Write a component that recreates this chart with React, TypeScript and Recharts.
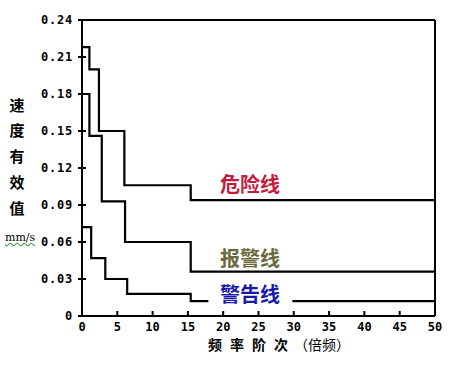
import { LineChart, Line, XAxis, YAxis } from 'recharts';

const xTicks = [0, 5, 10, 15, 20, 25, 30, 35, 40, 45, 50];
const yTicks = [0, 0.03, 0.06, 0.09, 0.12, 0.15, 0.18, 0.21, 0.24];
const yTickLabels = ['0', '0.03', '0.06', '0.09', '0.12', '0.15', '0.18', '0.21', '0.24'];

// 危险线
const dangerX = [0, 1.05, 2.4, 6.0, 15.4, 50];
const dangerY = [0.218, 0.2, 0.15, 0.106, 0.094, 0.094];
// 报警线
const alarmX = [0, 1.05, 2.8, 6.1, 15.4, 50];
const alarmY = [0.18, 0.146, 0.093, 0.06, 0.036, 0.036];
// 警告线 (broken where its label sits)
const warnX = [0, 1.3, 3.3, 6.4, 15.4, 17.9, 29.8, 50];
const warnY = [0.072, 0.047, 0.03, 0.018, 0.012, 0.012, 0.012, 0.012];
const warnGapAfter = 17.9;

const yTitle = ['速', '度', '有', '效', '值'];

const toPoints = (xs: number[], ys: number[]) => xs.map((x, i) => ({ x, y: ys[i] }));

const dangerData = toPoints(dangerX, dangerY);
const alarmData = toPoints(alarmX, alarmY);
const warnData = warnX.flatMap((x, i) =>
    x === warnGapAfter ? [{ x, y: warnY[i] }, { x, y: null as number | null }] : [{ x, y: warnY[i] as number | null }]
);

const W = 465;
const H = 366;
const MONO = '"DejaVu Sans Mono", monospace';
const CJK = '"Noto Sans CJK SC", sans-serif';

const LeftTick = (p: any) => {
    const i = yTicks.indexOf(p.payload.value);
    return (
        <g>
            <line x1={p.x - 4} x2={p.x + 4} y1={p.y} y2={p.y} stroke="#000" strokeWidth={2} />
            <text x={p.x - 9} y={p.y} textAnchor="end" dominantBaseline="central" letterSpacing={0.8}
                fontFamily={MONO} fontWeight="bold" fontSize={12} fill="#000">
                {yTickLabels[i]}
            </text>
        </g>
    );
};

const RightTick = (p: any) => (
    <line x1={p.x - 4} x2={p.x + 4} y1={p.y} y2={p.y} stroke="#000" strokeWidth={2} />
);

const BottomTick = (p: any) => {
    const v = p.payload.value;
    const edge = v === 0 || v === 50;
    return (
        <g>
            {!edge && <line x1={p.x} x2={p.x} y1={p.y} y2={p.y - 5} stroke="#000" strokeWidth={2} />}
            <text x={p.x} y={p.y + 11} textAnchor="middle" dominantBaseline="central"
                fontFamily={MONO} fontWeight="bold" fontSize={12} fill="#000">
                {v}
            </text>
        </g>
    );
};

const TopTick = (p: any) => {
    const v = p.payload.value;
    if (v === 0 || v === 50) return <g />;
    return <line x1={p.x} x2={p.x} y1={p.y} y2={p.y + 5} stroke="#000" strokeWidth={2} />;
};

export default function App() {
    const axisLine = { stroke: '#000', strokeWidth: 2 };
    return (
        <div style={{ position: 'absolute', left: 0, top: 0, width: W, height: H, background: '#fff' }}>
            <LineChart width={W} height={H} margin={{ top: 19, right: 29, bottom: 49, left: 81 }}>
                <XAxis xAxisId="b" type="number" dataKey="x" domain={[0, 50]} ticks={xTicks} interval={0}
                    height={1} tickSize={0} tickMargin={0} tickLine={false} axisLine={axisLine} tick={<BottomTick />} />
                <XAxis xAxisId="t" orientation="top" type="number" dataKey="x" domain={[0, 50]} ticks={xTicks} interval={0}
                    height={1} tickSize={0} tickMargin={0} tickLine={false} axisLine={axisLine} tick={<TopTick />} />
                <YAxis yAxisId="l" type="number" domain={[0, 0.24]} ticks={yTicks} interval={0}
                    width={1} tickSize={0} tickMargin={0} tickLine={false} axisLine={axisLine} tick={<LeftTick />} />
                <YAxis yAxisId="r" orientation="right" type="number" domain={[0, 0.24]} ticks={yTicks} interval={0}
                    width={1} tickSize={0} tickMargin={0} tickLine={false} axisLine={axisLine} tick={<RightTick />} />
                <Line xAxisId="b" yAxisId="l" data={dangerData} dataKey="y" type="stepAfter" stroke="#000"
                    strokeWidth={2.2} dot={false} isAnimationActive={false} />
                <Line xAxisId="b" yAxisId="l" data={alarmData} dataKey="y" type="stepAfter" stroke="#000"
                    strokeWidth={2.2} dot={false} isAnimationActive={false} />
                <Line xAxisId="b" yAxisId="l" data={warnData} dataKey="y" type="stepAfter" stroke="#000"
                    strokeWidth={2.2} dot={false} connectNulls={false} isAnimationActive={false} />
            </LineChart>
            <svg width={W} height={H} style={{ position: 'absolute', left: 0, top: 0, pointerEvents: 'none' }}>
                {yTitle.map((c, i) => (
                    <text key={c} x={17} y={104 + i * 25.8} textAnchor="middle" dominantBaseline="central"
                        fontFamily={CJK} fontWeight="bold" fontSize={15} fill="#000">{c}</text>
                ))}
                <text x={250} y={183} textAnchor="middle" dominantBaseline="central"
                    fontFamily={CJK} fontWeight="bold" fontSize={20} fill="#c41a3c">危险线</text>
                <text x={250} y={257} textAnchor="middle" dominantBaseline="central"
                    fontFamily={CJK} fontWeight="bold" fontSize={20} fill="#6b6b3e">报警线</text>
                <text x={250} y={293} textAnchor="middle" dominantBaseline="central"
                    fontFamily={CJK} fontWeight="bold" fontSize={20} fill="#1a1aa8">警告线</text>
                <text x={208} y={344} dominantBaseline="central" fontFamily={CJK} fontSize={14} fill="#000">
                    <tspan fontWeight="bold" letterSpacing={8}>频率阶次</tspan>
                    <tspan dx={-2}>（倍频）</tspan>
                </text>
            </svg>
            <span style={{
                position: 'absolute', left: 5, top: 231, fontFamily: '"DejaVu Serif", serif', fontSize: 11,
                textDecoration: 'underline wavy #3c9a3c', color: '#000',
            }}>mm/s</span>
        </div>
    );
}
